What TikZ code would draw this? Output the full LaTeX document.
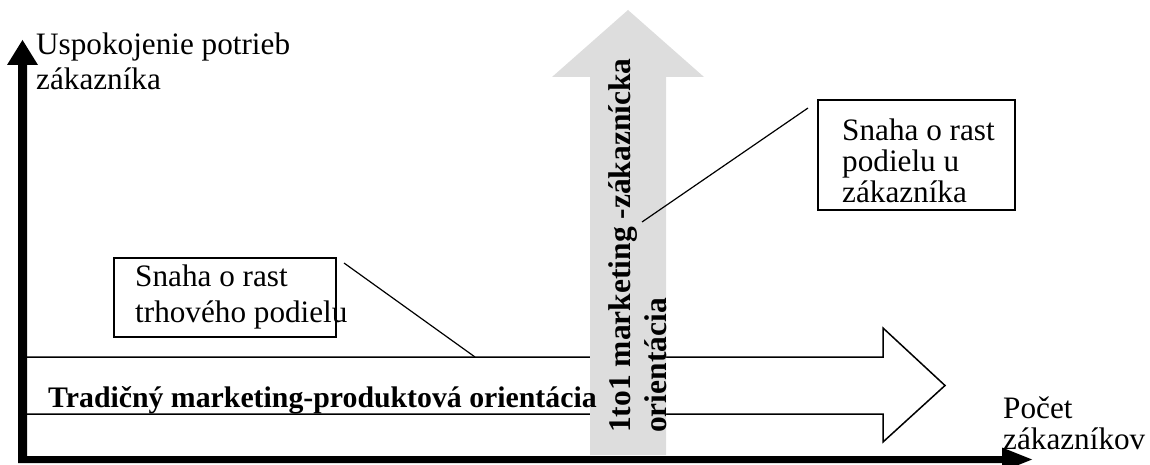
\documentclass[tikz,border=0pt]{standalone}
\usepackage{fontspec}
\setmainfont{Liberation Serif}
\definecolor{arrowgray}{RGB}{221,221,221}
\begin{document}
\begin{tikzpicture}[x=1pt,y=-1pt,
  lbl/.style={inner sep=0pt, align=left, anchor=base west},
  boxframe/.style={draw, line width=1.8pt, inner sep=0pt, anchor=north west},
  conn/.style={line width=1.2pt},
  axisfill/.style={fill=black, draw=none}]
\useasboundingbox (0,0) rectangle (1150,465);

% white horizontal block arrow
\draw[line width=1.5pt, fill=white, line join=miter]
  (27,357) -- (883,357) -- (883,328) -- (945,385.5) -- (883,442) -- (883,414) -- (27,414);

% gray vertical block arrow
\fill[arrowgray] (590,455) -- (590,77) -- (552,77) -- (628,10) -- (704,77) -- (666,77) -- (666,455) -- cycle;

% texts (base anchor = baseline of the last line)
\node[lbl, font=\bfseries\fontsize{29.8}{34}\selectfont] (htxt) at (48,407)
  {Tradičný marketing-produktová orientácia};
\node[lbl, rotate=90, font=\bfseries\fontsize{31.5}{36}\selectfont] (vtxt) at (666,433)
  {1to1 marketing -zákaznícka\\orientácia};
\node[lbl, font=\fontsize{31.2}{35}\selectfont] (ylab) at (36,90)
  {Uspokojenie potrieb\\zákazníka};
\node[lbl, font=\fontsize{31.2}{36}\selectfont] (ltxt) at (135,322)
  {Snaha o rast\\trhového podielu};
\node[lbl, font=\fontsize{31.2}{31}\selectfont] (rtxt) at (842,202)
  {Snaha o rast\\podielu u\\zákazníka};
\node[lbl, font=\fontsize{31.2}{31}\selectfont] (xlab) at (1003,449)
  {Počet\\zákazníkov};

% boxes
\node[boxframe, minimum width=222pt, minimum height=79pt] (lbox) at (113,257) {};
\node[boxframe, minimum width=197pt, minimum height=110pt] (rbox) at (817,99) {};

% connectors
\coordinate (la) at (344,263);
\coordinate (lb) at (475,357);
\coordinate (ra) at (642,222);
\coordinate (rb) at (808,108);
\draw[conn] (la) -- (lb);
\draw[conn] (ra) -- (rb);

% axes
\fill[axisfill] (18,462) -- (18,65) -- (7,65) -- (22.5,40) -- (38,65) -- (27,65) -- (27,462) -- cycle;
\fill[axisfill] (18,456) -- (1002,456) -- (1002,447.5) -- (1032,459.5) -- (1002,471.5) -- (1002,463) -- (18,463) -- cycle;
\end{tikzpicture}
\end{document}
